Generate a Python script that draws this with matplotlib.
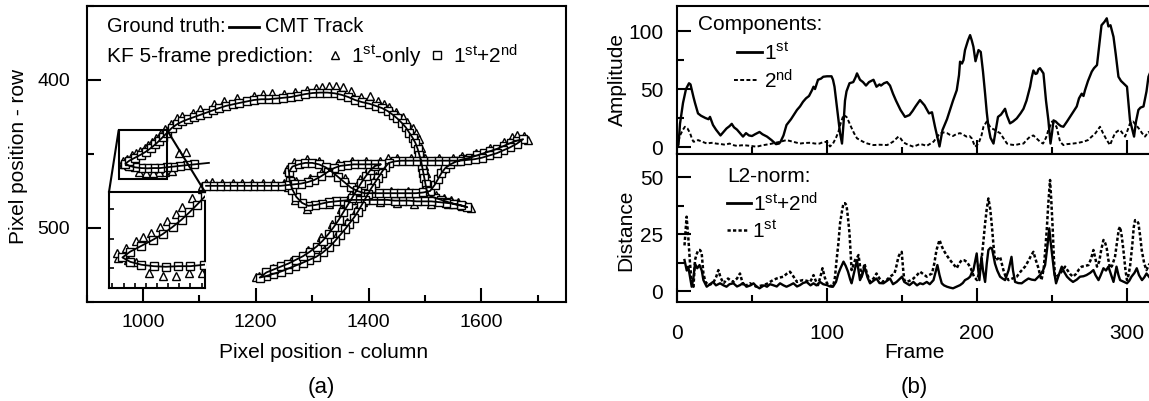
import matplotlib
matplotlib.use('Agg')
import matplotlib.pyplot as plt
from matplotlib.lines import Line2D
from matplotlib.patches import Rectangle, ConnectionPatch
from matplotlib.ticker import MultipleLocator

plt.rcParams['font.family'] = ['Liberation Sans', 'DejaVu Sans']
plt.rcParams['mathtext.fontset'] = 'custom'
plt.rcParams['mathtext.rm'] = 'Liberation Sans'
plt.rcParams['mathtext.it'] = 'Liberation Sans:italic'
plt.rcParams['mathtext.bf'] = 'Liberation Sans:bold'

# ---------------- data: panel (a) ----------------
# CMT ground-truth track (column, row)
track = [
    (1117, 456), (1104, 456.5), (1091, 457), (1078, 457.5), (1066, 458), (1054, 458.5),
    (1042, 459), (1030, 459.5), (1019, 459.5), (1008, 459.7), (997, 459.5), (986, 459), (976, 458), (969, 456.5),
    (976, 454.5), (986, 452.5), (996, 450.5), (1005, 448.5), (1014, 446), (1022, 443.5), (1029, 441), (1036, 438.3), (1043, 435.5),
    (1051, 432.5), (1060, 430), (1070, 428), (1080, 426.5), (1091, 425), (1102, 423.5), (1113, 422), (1124, 420.5), (1135, 419),
    (1147, 417.5), (1159, 416.5), (1171, 415.5), (1184, 414.5), (1197, 413.5), (1210, 413), (1223, 413), (1236, 412.5), (1249, 412),
    (1262, 411.5), (1275, 410.5), (1288, 409.5), (1301, 408.8), (1314, 408.5), (1327, 408.5), (1340, 409), (1352, 410), (1364, 411.5),
    (1376, 413.5), (1389, 415), (1401, 416), (1413, 417.5), (1424, 419), (1434, 421), (1443, 423.5), (1451, 426), (1459, 429),
    (1466, 432), (1472, 435.5), (1478, 439), (1483, 442.5), (1487, 446.5), (1490, 450.5), (1493, 454.5), (1495, 458.5), (1497, 462.5),
    (1499, 466.5), (1501, 470.5), (1503, 474.5), (1507, 478),
    (1517, 479.5), (1529, 481), (1541, 482.5), (1553, 484), (1565, 485), (1575, 486),
    (1563, 484.5), (1550, 483.5), (1537, 483), (1524, 482.5), (1511, 482), (1498, 482), (1485, 482), (1472, 481.5), (1459, 481.5),
    (1446, 481.5), (1433, 481), (1420, 481), (1407, 481), (1394, 481), (1381, 481), (1368, 481), (1355, 481.5), (1342, 482),
    (1329, 482.5), (1317, 483.5), (1305, 484.5), (1293, 485),
    (1282, 483), (1272, 479), (1265, 474), (1260, 468), (1259, 462), (1265, 458.5), (1276, 457), (1288, 456), (1300, 456),
    (1312, 457), (1324, 459), (1335, 462), (1346, 465.5), (1357, 469), (1368, 472.5), (1380, 475), (1393, 476.5),
    (1406, 476.5), (1419, 476.5), (1432, 476.5), (1445, 476.5), (1458, 476.5), (1471, 476.5), (1484, 476.5), (1497, 476), (1509, 475),
    (1517, 471), (1523, 467), (1529, 463), (1536, 459.5), (1545, 457), (1556, 455), (1568, 453.5), (1580, 452.5), (1592, 451),
    (1604, 449.5), (1616, 448), (1628, 446.5), (1640, 444.5), (1652, 442.5), (1663, 441), (1674, 440),
    (1663, 443), (1651, 445.5), (1639, 447.5), (1627, 449.5), (1614, 451), (1601, 452.5), (1588, 453.5), (1575, 454), (1562, 454.5),
    (1549, 454.5), (1536, 454.5), (1523, 454.5), (1510, 454.5), (1497, 454.5), (1484, 454.5), (1471, 454.5), (1458, 454.5),
    (1446, 455), (1436, 456),
    (1429, 459), (1423, 462.5), (1417, 466), (1411, 469.5), (1405, 473), (1399, 477), (1393, 481), (1387, 485), (1381, 489),
    (1374, 493), (1366, 497), (1358, 501), (1349, 505), (1340, 509), (1330, 513), (1319, 516.5), (1307, 519.5), (1295, 521.5),
    (1283, 523.5), (1270, 525.5), (1257, 527.5), (1244, 529.5), (1231, 531), (1218, 532.5), (1207, 533.5),
    (1219, 530), (1232, 528), (1245, 526), (1258, 524), (1271, 521.5), (1284, 519), (1296, 516), (1308, 512.5), (1319, 508.5),
    (1329, 504), (1338, 499.5), (1347, 494.5), (1355, 489.5), (1363, 484.5), (1371, 479.5), (1379, 474.5), (1387, 469.5),
    (1395, 465), (1403, 461), (1412, 458), (1422, 457),
    (1410, 457), (1398, 457), (1386, 457), (1374, 457), (1362, 457.5), (1350, 458), (1339, 459.5),
    (1328, 462), (1316, 465), (1304, 467.5), (1292, 469), (1280, 470), (1268, 470.5), (1256, 471), (1244, 471.5), (1232, 471.5),
    (1220, 471.5), (1208, 471.5), (1196, 471.5), (1184, 471.5), (1172, 471.5), (1160, 471.5), (1148, 471.5), (1136, 471.5),
    (1124, 471.5), (1112, 471.5),
]

# KF 5-frame prediction, 1st-only (triangles)
pred_1st = [
    (1064, 449.5), (1076, 448.4), (1052, 461.5), (1040, 462), (1029, 462), (1017, 463), (1005, 463), (993, 462), (981, 458),
    (974, 457.3), (965, 456.7), (964, 455),
    (972.5, 453.2), (981.4, 451), (987.5, 449.5), (994.7, 448), (1003, 446), (1009.4, 444), (1016.8, 441.7), (1022.7, 439.1),
    (1031.6, 436), (1040, 433), (1049, 429.5),
    (1060, 426), (1070, 424.5), (1088, 422), (1102, 419.5), (1126, 416.5), (1144, 414.5), (1167, 412), (1197, 410.5), (1212, 409.5),
    (1229, 409), (1250, 409.5), (1270, 408), (1290, 406.5), (1306, 405.5), (1318, 404.5), (1330, 404), (1342, 404), (1354, 404.5),
    (1369, 407.5), (1387, 411.5), (1402, 411), (1416, 414), (1428, 416), (1437, 418), (1449, 421.5), (1461, 425), (1469, 428.5),
    (1478, 432.5), (1484, 436), (1489, 440), (1493, 446), (1497, 452), (1499, 458), (1501, 463), (1503, 469), (1505, 476),
    (1520, 478), (1533, 479.5), (1546, 481), (1558, 482.5), (1570, 484.5), (1582, 486.7),
    (1540, 484), (1510, 483.5), (1480, 483.5), (1450, 483), (1420, 482.5), (1390, 482.5), (1360, 483), (1330, 484),
    (1291, 487), (1270, 481), (1258, 472), (1256, 460), (1268, 455.5), (1290, 453.5), (1312, 455), (1336, 460), (1358, 466.5),
    (1380, 473),
    (1410, 475), (1440, 475), (1470, 475), (1500, 474.5),
    (1521, 466), (1531, 460), (1545, 455), (1565, 451.5), (1590, 449), (1615, 446), (1640, 442), (1655, 438.5), (1664, 437),
    (1676, 438), (1682, 440.5),
    (1650, 442), (1625, 447), (1600, 451), (1575, 452.5), (1550, 452.5), (1525, 452.5), (1500, 452.5), (1475, 452.5),
    (1450, 452.5), (1434, 453),
    (1426, 458), (1414, 465), (1402, 472), (1390, 480), (1378, 488), (1362, 496), (1344, 504), (1324, 512), (1300, 518.5),
    (1275, 522.5), (1250, 526.5), (1225, 530.5), (1205, 532.5), (1200, 533.3),
    (1230, 527), (1262, 522), (1292, 515), (1316, 506), (1335, 497), (1352, 487), (1368, 477), (1384, 467), (1400, 459),
    (1420, 455), (1395, 455), (1370, 455), (1345, 456),
    (1320, 460), (1296, 466), (1272, 468.5), (1250, 469.5), (1230, 469.5), (1212, 469.5), (1194, 469.8), (1176, 469.8),
    (1159, 469.8), (1141, 469.8), (1123, 468.7), (1111, 469.8), (1105, 471.5),
]
first_pred_index = 2   # squares (1st+2nd) start after the first track frames

track_col = [p[0] for p in track]
track_row = [p[1] for p in track]
sq_col = track_col[first_pred_index:]
sq_row = track_row[first_pred_index:]
tri_col = [p[0] for p in pred_1st]
tri_row = [p[1] for p in pred_1st]

zoom_box = (957, 1043, 434, 467)   # col0, col1, row0, row1

# ---------------- data: panel (b) ----------------
amp_1st = [
    (0, 0), (1, 2), (2, 20), (4, 38), (6, 50), (8, 55), (9, 54), (11, 43), (12, 38), (14, 29), (16, 27), (19, 25), (21, 24),
    (22, 26), (24, 19), (26, 15), (29, 10), (31, 13), (33, 16), (35, 18), (36.5, 20), (38, 17), (40, 15), (42, 12), (44, 9),
    (46, 12), (48, 10), (50, 9.5), (52, 11), (55, 13), (57, 11), (60, 9), (63, 6), (66, 2.5), (68, 3), (69, 4.5), (71, 10),
    (73, 19), (76, 24), (78, 28), (80, 32), (82, 35), (84, 39), (86, 42), (88, 44), (90, 49), (91, 52), (92, 50), (94, 58),
    (96, 59), (97.5, 60.6), (100, 61), (103, 61), (104, 58), (105, 52), (107, 30), (108.7, 12), (110, 3), (111, 20), (112, 40),
    (113, 48), (115, 55), (117.5, 56), (119, 60), (120, 63.5), (122, 58), (124, 56), (126, 53), (128, 56), (131, 58), (133, 52),
    (135, 54), (136, 53), (138, 55), (140, 56), (142, 53), (144, 46), (146, 40), (149, 32), (152, 26), (155, 27.6), (157, 31),
    (159, 35), (162, 40.5), (165, 36), (168, 29), (170, 30), (172, 17.5), (175, 0.5), (177, 14.7), (180, 24), (182, 32),
    (184, 40), (186.5, 49), (188, 62), (188.7, 73.6), (190, 72), (191, 75), (192, 83.6), (194, 92), (195.4, 96.5), (196.5, 92),
    (197.6, 86.5), (199, 74), (201, 83.6), (202.5, 82), (204, 65), (205.4, 46), (206.5, 30), (207.6, 17.5), (209, 8), (211, 3),
    (213, 18), (214, 26), (216, 28), (218.7, 33), (220, 27), (222, 20.4), (224, 22), (226.5, 24.7), (229, 29), (231, 33),
    (233, 40), (235.4, 52), (236.5, 60), (237.6, 66), (239, 63), (240, 63.5), (241, 67), (242, 68), (243, 66), (244.3, 63.5),
    (246, 40), (247.6, 23), (249, 3), (250, 12), (251, 23), (252.5, 22), (254, 20), (256, 18), (257.6, 17.5), (260, 22),
    (262, 26), (264, 30), (266.5, 35), (268, 42), (269.8, 46), (271, 44), (272, 49), (274, 57), (276.5, 65), (278, 68),
    (280, 70.7), (281.5, 88), (283, 105), (285, 108), (286.5, 111), (287.6, 104), (289, 105), (291, 95), (292.5, 80),
    (294.3, 60.6), (296, 57), (297.6, 55), (300, 52), (302, 23), (303.5, 15), (304.7, 9), (306, 22), (307.6, 32), (309, 34),
    (311, 35), (313, 48), (314.3, 60.6), (316, 66),
]
amp_2nd = [
    (0, 0), (2, 10), (4, 15), (5.3, 17.5), (7, 16), (8.7, 12), (10, 7), (11, 4.6), (13, 5), (14, 6), (16, 5), (18, 4), (20, 3),
    (22, 3.5), (24, 3.7), (26, 3), (29, 2.6), (32, 2), (35, 3), (38, 1.5), (40, 1), (43, 1.5), (46, 1.4), (49, 1), (53, 0.3),
    (57, 1.5), (62, 2.6), (65, 3.5), (69, 4.6), (73, 6), (76, 5), (79, 4), (82, 3), (85, 3.5), (89, 3.7), (92, 3), (95, 3),
    (97, 4), (100, 4.6), (102, 0.5), (104, 3), (106, 8), (107.6, 13), (109, 20), (111, 27.6), (113, 26), (114.5, 22),
    (116, 17.5), (118, 12), (120, 7.5), (122, 6), (124, 4.6), (127, 3), (131, 1.7), (135, 2), (140, 1.7), (142, 3), (144, 4.6),
    (146, 7), (147.6, 9), (149, 7.5), (151, 4), (153, 2.6), (155, 1.5), (157.6, 0.3), (160, 1.5), (162, 2.6), (164, 2),
    (166.5, 1), (169, 3), (171, 4.6), (173, 8), (175.4, 12), (178, 12.5), (180, 12), (182, 10.5), (184, 9.5), (186, 11),
    (188.7, 12), (191, 10.5), (193, 9), (195, 9.5), (196.5, 7.5), (198.7, 0.3), (201, 3), (203, 10), (204.3, 17.5),
    (206.5, 22), (208.7, 17.5), (210, 16), (212, 14.7), (214, 13), (215.4, 12), (218, 7), (220, 3), (223, 2), (225.4, 1.7),
    (228, 2.5), (231, 3), (233, 6), (235.4, 9), (237.6, 10), (240, 7), (242, 4.6), (244, 3), (246, 8), (247.6, 14.7),
    (250, 22), (251.5, 20), (253, 17.5), (254, 12), (255.4, 4.6), (257.6, 1.7), (260, 2.5), (264, 3), (267, 3.5), (271, 4.6),
    (274, 6), (276.5, 9), (279, 12), (282, 17.5), (284, 12), (286.5, 6), (288.7, 1.7), (290, 6), (292, 12), (294, 14),
    (295.4, 14.7), (297, 12), (298.7, 9), (300, 13), (302, 20.4), (304, 22), (306, 19), (308.7, 14.7), (310, 12), (312, 9),
    (314.3, 13), (316, 11),
]
dist_1st2nd = [
    (5, 13.6), (6.5, 9), (7.5, 10.7), (8.7, 6), (9.8, 1.9), (11, 6), (12, 12), (13.5, 10), (15, 11.4), (16.5, 9), (17.6, 4.8),
    (19.8, 1.9), (22, 3), (24, 4), (26, 2.5), (28.7, 3.4), (31, 2.5), (33, 1.9), (35, 3), (37.6, 3.4), (40, 2), (42, 2.6),
    (44, 3.5), (46.4, 1.9), (49, 2.5), (51, 3.4), (53, 2), (55, 1.2), (58, 2.5), (60, 1.9), (62, 3), (64, 2.6), (66.5, 2),
    (68.7, 3.4), (71, 2.5), (73, 1.9), (75, 2.5), (77.6, 3.4), (80, 2), (82, 2.6), (84, 3.5), (86.4, 4), (89, 2.5), (91, 3.4),
    (93, 2.5), (95.3, 4), (97.5, 3), (100, 2.6), (102, 2), (104, 1.9), (106, 4), (107.6, 7.7), (109, 10), (111, 12.9),
    (112.5, 11), (114, 8.5), (115.5, 5), (116.4, 3.4), (118, 8), (120, 13.6), (121, 9), (122, 4.8), (123.5, 7), (125, 10.7),
    (127, 6), (128.7, 3.4), (131, 4.5), (133, 5.5), (135, 3.5), (137.6, 3.4), (140, 4.5), (142, 5.5), (144, 3), (146.4, 4),
    (148, 5), (150, 6.3), (151.5, 4), (153, 3.4), (155, 2.6), (157.6, 4), (160, 2.5), (162, 3.4), (164, 3), (166.5, 4),
    (168.5, 3), (171, 4.8), (173.6, 11.4), (175, 7), (176.5, 3.4), (178, 2.5), (180, 1.9), (182, 1.5), (184, 1.2), (186, 1.8),
    (188.7, 2.6), (190.5, 3.5), (192, 4.8), (194, 5.5), (195.4, 6.3), (196.5, 8), (197.6, 9.2), (199.8, 16.5), (200.7, 10),
    (201.6, 4.8), (203, 15), (204, 9), (205.4, 4), (206.5, 12), (207.6, 18), (209, 19), (210, 18.7), (212, 12), (213.5, 9),
    (215.4, 6.3), (217, 5.5), (218.7, 4.8), (221, 9), (223, 15), (224, 9), (225.4, 4), (227.5, 3.5), (229.8, 3.4), (232, 4.5),
    (234.3, 5.5), (236.5, 5), (238.7, 4.8), (240.5, 6), (242, 7), (244, 9), (245.4, 11.4), (247, 20), (248.2, 27.5),
    (249, 22), (250, 16.5), (251.5, 8), (252.7, 3.4), (254.5, 7), (256.5, 10.7), (258, 8.5), (260, 6.3), (262, 5), (264, 4),
    (266.5, 5), (268.7, 6.3), (271, 6.5), (273, 7), (275.5, 8), (277.6, 9.2), (279, 7), (281, 4.8), (282.5, 7), (284.3, 10),
    (286, 9), (287.6, 10.7), (289.5, 7), (291, 4), (293, 10.7), (294.3, 7), (295.4, 4.8), (298, 4), (300, 3.4), (301.5, 4.5),
    (303, 6.3), (305, 8), (306.5, 10), (308, 7), (310, 4.8), (311.5, 6), (313, 7.7), (315, 6),
]
dist_1st = [
    (5, 20), (6.4, 32.6), (7.5, 23.8), (8.7, 12), (9.8, 3.4), (11, 1.9), (12, 13.6), (13, 16), (14.2, 18), (15.3, 18),
    (16.4, 17), (17.6, 7.7), (19, 4), (21, 2.6), (22.5, 3), (24, 3.4), (26, 6), (27.6, 9.2), (29, 6), (31, 3.4), (32.5, 4.5),
    (34, 5.5), (36, 4.5), (37.6, 4), (40, 5.5), (42, 7.7), (43.5, 4), (45, 1.9), (47, 2.8), (48.7, 3.4), (51, 2.5), (53, 1.9),
    (55, 2.2), (57.6, 2.6), (60, 3.2), (62, 4), (64, 4.8), (66.4, 5.5), (69, 6), (71, 6.3), (73, 7.5), (75.3, 8.5),
    (77.5, 6.5), (80, 4), (82, 4.5), (84, 4.8), (86.5, 4.5), (88.7, 4), (90, 5.5), (91, 7), (92.5, 4.5), (94, 2.6), (95.5, 6),
    (97, 10), (98.5, 6), (100, 3.4), (102, 2.5), (104, 1.9), (105.3, 6), (106.4, 13.6), (107.6, 21), (108.7, 29.7), (110, 35),
    (111, 38.5), (112, 38.5), (113, 37.7), (114, 32), (115, 25.3), (115.8, 16), (116.4, 9.2), (117.5, 11), (118.7, 13.6),
    (120, 14.5), (121, 15.8), (122, 11), (123, 6.3), (124, 9), (125, 12), (126.5, 8), (128.7, 4), (131, 5.5), (133, 7.7),
    (135, 5.5), (137.6, 4), (140, 5), (142, 6.3), (143.5, 7), (145, 7.7), (146.3, 11), (147.6, 15), (148.7, 16.5),
    (149.8, 17.2), (150.7, 10), (151.5, 4.8), (153, 4), (155, 4.5), (157.6, 5.5), (160, 7), (162, 8.5), (164, 7.5),
    (166.5, 6.3), (168, 7), (170, 7.7), (171.5, 12), (173, 18), (175, 22.4), (176.3, 20), (177.6, 18), (180, 15.5),
    (182, 13.6), (184, 12), (186.5, 10), (188, 12), (189.8, 13.6), (191.5, 13.5), (193, 12.9), (194.5, 11.5), (195.8, 10),
    (197, 8), (198, 6.3), (200, 4.8), (201.5, 8), (203, 13.6), (204.3, 22), (205.4, 29.7), (206.5, 36), (207.6, 40.6),
    (208.8, 36), (210, 28), (211, 20), (212, 13.6), (213.5, 14), (215.4, 15), (216.5, 12), (217.6, 9.2), (219, 6.5),
    (221, 4.8), (223.5, 5.5), (226.5, 6.3), (229, 8.5), (232, 10.7), (234.5, 13.5), (236, 15.5), (237.6, 17.2), (239, 14),
    (241, 10), (242, 7), (243, 4.8), (244.5, 10), (245.5, 18), (246.5, 26.8), (247.5, 38), (248.7, 48.7), (249.5, 40),
    (250.5, 26.8), (251.2, 15), (252, 6.3), (253.5, 6.5), (255.4, 7.7), (257, 9), (258.7, 10.7), (260.5, 9), (262, 7.5),
    (264, 6.3), (266, 7.5), (268, 9.5), (269.8, 10.7), (272, 11), (274.3, 11.4), (276, 14), (277.6, 18), (279, 14),
    (280, 10.7), (281.5, 13), (282.8, 18), (284.3, 22.4), (285.5, 21), (286.5, 18.7), (287.5, 14), (288.7, 10), (290, 11),
    (292, 15), (293.5, 22), (294.5, 27), (295.4, 28.2), (296.5, 24), (297.6, 18), (299, 9), (300, 4.8), (301, 7),
    (302, 10.7), (303.5, 20), (304.5, 28), (305.4, 31.1), (306.5, 31), (307.6, 29.7), (308.8, 24), (309.8, 18),
    (311.5, 12), (313, 9.2), (315, 12),
]


def split(pairs):
    return [p[0] for p in pairs], [p[1] for p in pairs]


# ---------------- figure ----------------
W, H = 1149, 401
fig = plt.figure(figsize=(W / 100, H / 100), dpi=100)


def box(px0, py0, px1, py1):
    return [px0 / W, 1 - py1 / H, (px1 - px0) / W, (py1 - py0) / H]


def fxy(px, py):
    return px / W, 1 - py / H


SPW = 1.5
TRI_MS, SQ_MS, MEW = 6.4, 5.4, 1.0


def style(a, fs, padx, pady):
    for s in a.spines.values():
        s.set_linewidth(SPW)
    a.tick_params(which='both', direction='in', width=SPW, top=False, right=False, labelsize=fs)
    a.tick_params(which='major', length=10)
    a.tick_params(which='minor', length=5)
    a.tick_params(axis='x', pad=padx)
    a.tick_params(axis='y', pad=pady)


# ----- panel (a) -----
ax = fig.add_axes(box(86.5, 6, 566, 302))
mk = dict(ls='none', mfc='white', mec='k', mew=MEW)
ax.plot(tri_col, tri_row, marker='^', ms=TRI_MS, zorder=2, **mk)
ax.plot(sq_col, sq_row, marker='s', ms=SQ_MS, zorder=3, **mk)
ax.plot(track_col, track_row, color='k', lw=1.3, zorder=4)
ax.set_xlim(900, 1750)
ax.set_ylim(550, 350)
ax.xaxis.set_major_locator(MultipleLocator(200))
ax.xaxis.set_minor_locator(MultipleLocator(100))
ax.yaxis.set_major_locator(MultipleLocator(100))
ax.yaxis.set_minor_locator(MultipleLocator(50))
style(ax, 14, 8.5, 12)

c0, c1, r0, r1 = zoom_box
ax.add_patch(Rectangle((c0, r0), c1 - c0, r1 - r0, fill=False, lw=1.5, ec='k', zorder=6))

axins = fig.add_axes(box(109, 192, 205, 288))
axins.set_facecolor('white')
axins.plot(tri_col, tri_row, marker='^', ms=TRI_MS, zorder=2, **mk)
axins.plot(sq_col, sq_row, marker='s', ms=SQ_MS, zorder=3, **mk)
axins.plot(track_col, track_row, color='k', lw=1.3, zorder=4)
axins.set_xlim(c0, c1)
axins.set_ylim(r1, r0)
axins.xaxis.set_major_locator(MultipleLocator(10))
axins.yaxis.set_major_locator(MultipleLocator(10))
for s in axins.spines.values():
    s.set_linewidth(SPW)
axins.tick_params(direction='in', length=3.5, width=1.2, labelleft=False, labelbottom=False, top=False, right=False)

for xyA, xyB in (((c0, r0), (0, 1)), ((c1, r0), (1, 1))):
    cp = ConnectionPatch(xyA=xyA, coordsA=ax.transData, xyB=xyB, coordsB=axins.transAxes,
                         color='k', lw=1.5, zorder=7)
    fig.add_artist(cp)

fs_leg = 14.5
fig.text(*fxy(107, 27), 'Ground truth:', fontsize=fs_leg, va='center', ha='left')
fig.add_artist(Line2D([229 / W, 259 / W], [1 - 27 / H] * 2, color='k', lw=2, transform=fig.transFigure))
fig.text(*fxy(265, 27), 'CMT Track', fontsize=fs_leg, va='center', ha='left')
fig.text(*fxy(107, 56), 'KF 5-frame prediction:', fontsize=15, va='center', ha='left')
fig.add_artist(Line2D([335 / W], [1 - 55 / H], marker='^', ms=TRI_MS, transform=fig.transFigure, **mk))
fig.text(*fxy(351, 56), '1$^{\\mathrm{st}}$-only', fontsize=15, va='center', ha='left')
fig.add_artist(Line2D([437 / W], [1 - 55 / H], marker='s', ms=SQ_MS, transform=fig.transFigure, **mk))
fig.text(*fxy(453, 56), '1$^{\\mathrm{st}}$+2$^{\\mathrm{nd}}$', fontsize=15, va='center', ha='left')

fig.text(*fxy(18.5, 156), 'Pixel position - row', fontsize=15, rotation=90, ha='center', va='center')
fig.text(*fxy(324, 353), 'Pixel position - column', fontsize=15, ha='center', va='center')
fig.text(*fxy(321, 387), '(a)', fontsize=16, ha='center', va='center')

# ----- panel (b) -----
XR = 350
px_right = 677 + XR * 1.5
axA = fig.add_axes(box(677, 6, px_right, 154))
axD = fig.add_axes(box(677, 154, px_right, 302))

f, v = split(amp_1st)
axA.plot(f, v, color='k', lw=1.7)
f, v = split(amp_2nd)
axA.plot(f, v, color='k', lw=1.4, ls=(0, (2, 1.2)))
axA.set_xlim(0, XR)
axA.set_ylim(-6, 121.6)
axA.xaxis.set_major_locator(MultipleLocator(100))
axA.xaxis.set_minor_locator(MultipleLocator(50))
axA.yaxis.set_major_locator(MultipleLocator(50))
axA.yaxis.set_minor_locator(MultipleLocator(25))
style(axA, 15, 16, 10)
axA.tick_params(labelbottom=False)

f, v = split(dist_1st)
axD.plot(f, v, color='k', lw=1.8, ls=(0, (1.3, 0.9)))
f, v = split(dist_1st2nd)
axD.plot(f, v, color='k', lw=1.7)
axD.set_xlim(0, XR)
axD.set_ylim(-4.8, 60.1)
axD.xaxis.set_major_locator(MultipleLocator(100))
axD.xaxis.set_minor_locator(MultipleLocator(50))
axD.yaxis.set_major_locator(MultipleLocator(25))
axD.yaxis.set_minor_locator(MultipleLocator(12.5))
style(axD, 15, 16, 10)

fs_r = 15
fig.text(*fxy(698, 25), 'Components:', fontsize=fs_r, va='center', ha='left')
fig.add_artist(Line2D([737 / W, 762 / W], [1 - 52 / H] * 2, color='k', lw=2, transform=fig.transFigure))
fig.text(*fxy(764, 53), '1$^{\\mathrm{st}}$', fontsize=fs_r, va='center', ha='left')
fig.add_artist(Line2D([734 / W, 757 / W], [1 - 80 / H] * 2, color='k', lw=1.4, ls=(0, (2, 1.2)),
                      transform=fig.transFigure))
fig.text(*fxy(764, 81), '2$^{\\mathrm{nd}}$', fontsize=fs_r, va='center', ha='left')

fig.text(*fxy(727, 177), 'L2-norm:', fontsize=fs_r, va='center', ha='left')
fig.add_artist(Line2D([727 / W, 751 / W], [1 - 203 / H] * 2, color='k', lw=2, transform=fig.transFigure))
fig.text(*fxy(753, 204), '1$^{\\mathrm{st}}$+2$^{\\mathrm{nd}}$', fontsize=fs_r, va='center', ha='left')
fig.add_artist(Line2D([727 / W, 748 / W], [1 - 230 / H] * 2, color='k', lw=1.8, ls=(0, (1.3, 0.9)),
                      transform=fig.transFigure))
fig.text(*fxy(752, 231), '1$^{\\mathrm{st}}$', fontsize=fs_r, va='center', ha='left')

fig.text(*fxy(617, 80), 'Amplitude', fontsize=15, rotation=90, ha='center', va='center')
fig.text(*fxy(626, 230), 'Distance', fontsize=15, rotation=90, ha='center', va='center')
fig.text(*fxy(914, 352), 'Frame', fontsize=15, ha='center', va='center')
fig.text(*fxy(914, 387), '(b)', fontsize=16, ha='center', va='center')

fig.savefig('out.png', dpi=100)
